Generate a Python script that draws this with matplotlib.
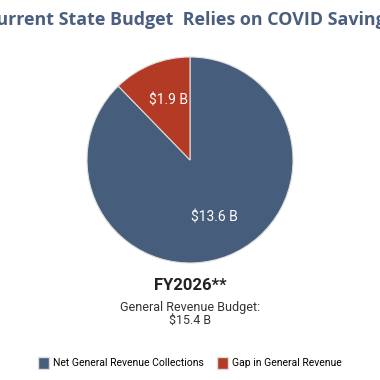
import matplotlib.pyplot as plt
from matplotlib.patches import Patch

# Budget composition, billions of dollars
categories = ["Net General Revenue Collections", "Gap in General Revenue"]
values = [13.6, 1.9]
value_labels = ["$13.6 B", "$1.9 B"]
colors = ["#475d7c", "#b33a24"]

title = "Current State Budget  Relies on COVID Savings"
year_label = "FY2026**"
budget_label = "General Revenue Budget:\n$15.4 B"

fig = plt.figure(figsize=(3.8, 3.8), dpi=100)
W = H = 380

# pie axis: centre ~ (190, 160), radius ~ 103 px
r = 103
ax = fig.add_axes([(190 - r) / W, 1 - (160 + r) / H, 2 * r / W, 2 * r / H])
wedges, texts = ax.pie(values, colors=colors, startangle=90, counterclock=False,
                       wedgeprops=dict(edgecolor="#dddddd", linewidth=0.8))
ax.set_aspect("equal")
ax.set_xlim(-1, 1)
ax.set_ylim(-1, 1)

# labels inside slices
ax.text(0.24, -0.56, value_labels[0], color="white", fontsize=10,
        family="Roboto", ha="center", va="center")
ax.text(-0.21, 0.58, value_labels[1], color="white", fontsize=10,
        family="Roboto", ha="center", va="center")

fig.text(0.5, 1 - 20 / H, title, ha="center", va="center", fontsize=12.9,
         fontweight="bold", color="#4a5f80", family="Open Sans")
fig.text(0.5, 1 - 285 / H, year_label, ha="center", va="center", fontsize=12,
         fontweight="bold", color="#222222", family="Roboto")
fig.text(0.5, 1 - 314 / H, budget_label, ha="center", va="center", fontsize=9,
         color="#333333", family="Roboto", linespacing=1.05)

handles = [Patch(facecolor=c, edgecolor="#dddddd", label=l)
           for c, l in zip(colors, categories)]
fig.legend(handles=handles, loc="center", bbox_to_anchor=(0.5, 1 - 363 / H),
           ncol=2, frameon=False, prop={"family": "Roboto", "size": 7.5},
           handlelength=1.1, handleheight=1.4, handletextpad=0.4, columnspacing=1.2)

fig.savefig("out.png", dpi=100)
